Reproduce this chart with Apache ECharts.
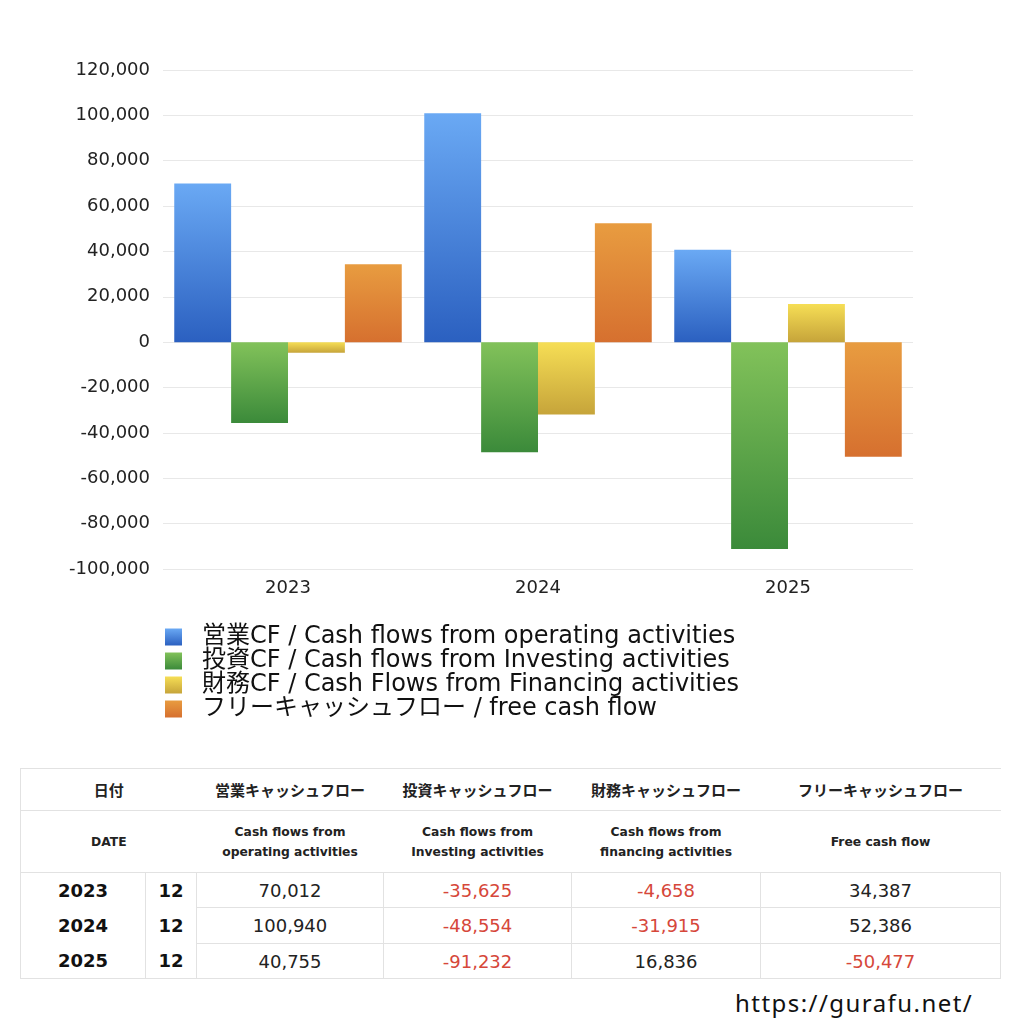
<!DOCTYPE html>
<html><head><meta charset="utf-8">
<script src="https://cdn.jsdelivr.net/npm/echarts@6/dist/echarts.min.js"></script>
<style>
html,body{margin:0;padding:0;background:#fff;}
body{width:1024px;height:1024px;position:relative;overflow:hidden;font-family:"DejaVu Sans","Noto Sans CJK JP",sans-serif;}
#chart{position:absolute;left:0;top:0;width:1024px;height:740px;}
#tbl{position:absolute;left:20px;top:768px;border-collapse:collapse;table-layout:fixed;width:980px;}
#tbl td{border:1px solid #e2e2e2;text-align:center;padding:0;color:#222;}
#tbl .h{font-weight:bold;font-size:12.3px;line-height:20px;}
#tbl .hj{font-weight:bold;font-size:15px;font-family:"Noto Sans CJK JP",sans-serif;}
#tbl .y{font-weight:bold;font-size:18px;color:#111;}
#tbl .v{font-size:18px;font-weight:normal;color:#222;}
#tbl .neg{color:#d6473a;}
#url{position:absolute;left:735px;top:986px;font-size:24px;color:#111;font-family:"Noto Sans",sans-serif;letter-spacing:1.45px;}
</style></head>
<body>
<div id="chart"></div>
<table id="tbl"></table>
<div id="url">https://gurafu.net/</div>
<script>
const categories = ['2023','2024','2025'];
const months = ['12','12','12'];
const operating = [70012, 100940, 40755];
const investing = [-35625, -48554, -91232];
const financing = [-4658, -31915, 16836];
const freeCF = [34387, 52386, -50477];
const seriesNames = [
  '営業CF / Cash flows from operating activities',
  '投資CF / Cash flows from Investing activities',
  '財務CF / Cash Flows from Financing activities',
  'フリーキャッシュフロー / free cash flow'
];
const headersJa = ['営業キャッシュフロー','投資キャッシュフロー','財務キャッシュフロー','フリーキャッシュフロー'];
const headersEn = ['Cash flows from<br>operating activities','Cash flows from<br>Investing activities','Cash flows from<br>financing activities','Free cash flow'];

const grads = [
  ['#6aa9f4','#2b60c0'],
  ['#82c25a','#3b8a3a'],
  ['#f6de55','#c6a43a'],
  ['#e89c40','#d6702f']
];
function grad(c){return new echarts.graphic.LinearGradient(0,0,0,1,[{offset:0,color:c[0]},{offset:1,color:c[1]}]);}
const allData = [operating, investing, financing, freeCF];
const FONT = '"DejaVu Sans","Noto Sans CJK JP",sans-serif';

const chart = echarts.init(document.getElementById('chart'));
chart.setOption({
  animation:false,
  textStyle:{fontFamily:FONT},
  grid:{left:163,right:111,top:70,height:499},
  xAxis:{type:'category',data:categories,
    axisLine:{show:false},axisTick:{show:false},
    axisLabel:{fontSize:18,color:'#222',margin:10,fontFamily:FONT}},
  yAxis:{type:'value',min:-100000,max:120000,interval:20000,
    axisLine:{show:false},axisTick:{show:false},
    splitLine:{lineStyle:{color:'#e8e8e8',width:1}},
    axisLabel:{fontSize:18,color:'#222',margin:13,fontFamily:FONT,
      formatter:v=>v.toLocaleString('en-US')}},
  legend:{orient:'vertical',left:165,top:625,padding:0,itemWidth:17,itemHeight:17,itemGap:0,
    icon:'rect',
    textStyle:{fontSize:24,color:'#111',lineHeight:24,padding:[0,0,0,15],fontFamily:FONT},
    data:seriesNames},
  series: allData.map((d,i)=>({
    name:seriesNames[i],type:'bar',data:d,barGap:'0%',barCategoryGap:'9%',
    itemStyle:{color:grad(grads[i])}
  }))
});

// table
const fmt = v=>v.toLocaleString('en-US');
let html = '<colgroup><col style="width:125px"><col style="width:51px"><col style="width:187px"><col style="width:188px"><col style="width:189px"><col style="width:240px"></colgroup>';
html += '<tr style="height:42px"><td class="hj" colspan="2" style="border-right:none">日付</td>' + headersJa.map(h=>'<td class="hj" style="border-left:none;border-right:none">'+h+'</td>').join('') + '</tr>';
html += '<tr style="height:62px"><td class="h" colspan="2" style="border-right:none">DATE</td>' + headersEn.map(h=>'<td class="h" style="border-left:none;border-right:none">'+h+'</td>').join('') + '</tr>';
categories.forEach((c,r)=>{
  const h = r===1 ? 36 : 35;
  const nb = 'style="'+(r>0?'border-top:none;':'')+(r<categories.length-1?'border-bottom:none;':'')+'"';
  html += '<tr style="height:'+h+'px"><td class="y" '+nb+'>'+c+'</td><td class="y" '+nb+'>'+months[r]+'</td>';
  allData.forEach(d=>{
    html += '<td class="v'+(d[r]<0?' neg':'')+'">'+fmt(d[r])+'</td>';
  });
  html += '</tr>';
});
document.getElementById('tbl').innerHTML = html;
</script>
</body></html>
